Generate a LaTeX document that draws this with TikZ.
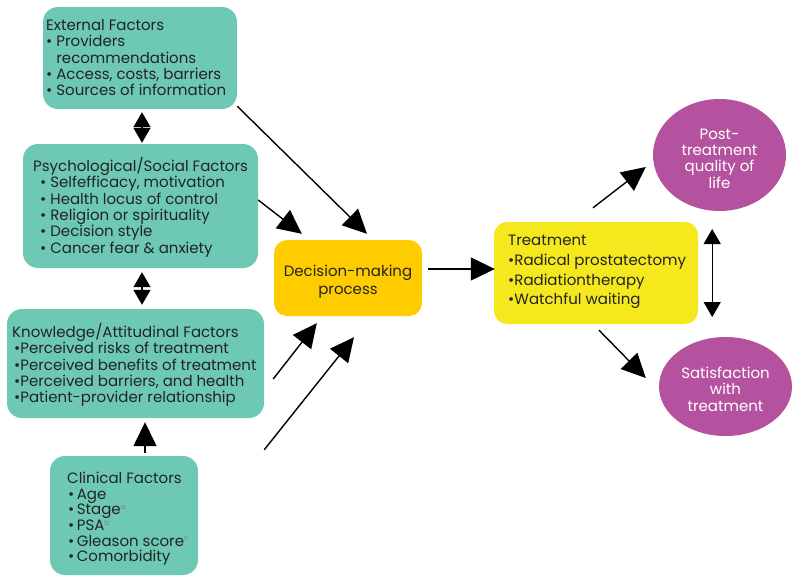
\documentclass[tikz,border=0pt]{standalone}
\usepackage{fontspec}
\setmainfont{Poppins}
\usetikzlibrary{arrows.meta,shapes.geometric,calc}
\definecolor{tealbox}{RGB}{109,201,180}
\definecolor{decbox}{RGB}{255,204,0}
\definecolor{treatbox}{RGB}{245,233,30}
\definecolor{ellfill}{RGB}{181,82,160}
\definecolor{txtc}{RGB}{35,35,35}
\newcommand{\supr}[1]{\textsuperscript{\color{gray}\scriptsize #1}}
\begin{document}
\begin{tikzpicture}[x=1pt,y=-1pt,
  tbox/.style={draw=none,fill=tealbox,rounded corners=15pt,inner sep=0pt},
  ybox/.style={draw=none,rounded corners=13pt,inner sep=0pt},
  ell/.style={ellipse,draw=none,fill=ellfill,inner sep=0pt},
  elltxt/.style={inner sep=0pt,text=white,align=center,font=\fontsize{15}{16.4}\selectfont},
  ctxt/.style={inner sep=0pt,text=txtc,align=center,font=\fontsize{15}{18}\selectfont},
  txt/.style={anchor=north west,inner sep=0pt,align=left,text=txtc,font=\fontsize{15}{16.4}\selectfont},
  arr/.style={line width=1.4pt,-{Triangle[length=24pt,width=23pt]}},
  dbl/.style={line width=1.4pt,{Triangle[length=15pt,width=17pt]}-{Triangle[length=15pt,width=17pt]}}
]
\useasboundingbox (0,0) rectangle (800,583);
\fill[white] (0,0) rectangle (800,583);

% boxes
\node[tbox,minimum width=194pt,minimum height=102pt] (ext) at (140,58) {};
\node[tbox,minimum width=235pt,minimum height=124pt] (psy) at (140.5,206) {};
\node[tbox,minimum width=257pt,minimum height=109pt] (know) at (135.5,363.5) {};
\node[tbox,minimum width=148pt,minimum height=119pt] (clin) at (124,515.5) {};
\node[ybox,fill=decbox,minimum width=148pt,minimum height=76pt] (dec) at (348,278) {};
\node[ybox,fill=treatbox,minimum width=204pt,minimum height=102pt] (treat) at (596,273) {};
\node[ell,minimum width=133pt,minimum height=112pt] (post) at (719.5,155) {};
\node[ell,minimum width=133pt,minimum height=99pt] (sat) at (725.5,386.5) {};

% texts
\node[ctxt] (decT) at (348,282) {Decision-making\\process};
\node[elltxt] (postT) at (719.5,158.5) {Post-\\treatment\\quality of\\life};
\node[elltxt] (satT) at (725.5,389) {Satisfaction\\with\\treatment};
\node[txt] (extT) at (46,19) {External Factors\\
• Providers\\
\hphantom{• }recommendations\\
• Access, costs, barriers\\
• Sources of information};
\node[txt] (psyT) at (33,157) {Psychological/Social Factors\\
\hspace*{7pt}• Selfefficacy, motivation\\
\hspace*{7pt}• Health locus of control\\
\hspace*{7pt}• Religion or spirituality\\
\hspace*{7pt}• Decision style\\
\hspace*{7pt}• Cancer fear \& anxiety};
\node[txt] (knowT) at (12,323) {Knowledge/Attitudinal Factors\\
\hspace*{2pt}•Perceived risks of treatment\\
\hspace*{2pt}•Perceived benefits of treatment\\
\hspace*{2pt}•Perceived barriers, and health\\
\hspace*{2pt}•Patient-provider relationship};
\node[txt,font=\fontsize{15}{15.6}\selectfont] (clinT) at (67,472) {Clinical Factors\\
\hspace*{1pt}•\,Age\\
\hspace*{1pt}•\,Stage\supr{a}\\
\hspace*{1pt}•\,PSA\supr{b}\\
\hspace*{1pt}•\,Gleason score\supr{c}\\
\hspace*{1pt}•\,Comorbidity};
\node[txt,font=\fontsize{15}{19.7}\selectfont] (treatT) at (508,235) {Treatment\\
•Radical prostatectomy\\
•Radiationtherapy\\
•Watchful waiting};

% connectors
\draw[dbl] ($(ext.south)+(2,3)$) -- ($(psy.north)+(1.5,-1)$);
\draw[dbl] ($(psy.south)+(1.5,4)$) -- ($(know.north)+(6.5,-4)$);
\draw[arr] ($(clin.north)+(21,-3)$) -- ($(know.south)+(9.5,4)$);
\draw[arr] ($(ext.south east)+(0,-3)$) -- ($(dec.north)+(19,-6)$);
\draw[arr] ($(psy.east)+(0,-6)$) -- ($(dec.north west)+(28,-6)$);
\draw[arr] ($(know.east)+(9,15.5)$) -- ($(dec.south west)+(43,7)$);
\draw[arr] ($(clin.north east)+(66,-6)$) -- ($(dec.south)+(6,21)$);
\draw[arr] ($(dec.east)+(6,-9)$) -- ($(treat.west)+(1,-4)$);
\draw[arr] ($(treat.north)+(-3,-14)$) -- ($(post.west)+(-7,12)$);
\draw[arr] ($(treat.south)+(3,6)$) -- ($(sat.west)+(-13,-8.5)$);
\draw[dbl] ($(treat.east)+(14,-44)$) -- ($(treat.east)+(14,44)$);
\end{tikzpicture}
\end{document}
